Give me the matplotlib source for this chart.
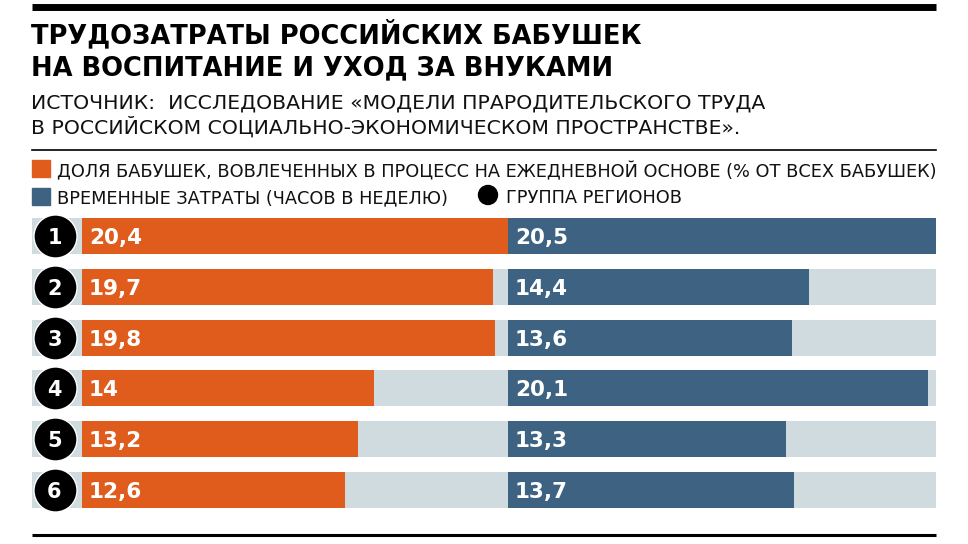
import matplotlib
matplotlib.use("Agg")
import matplotlib.pyplot as plt
from matplotlib.lines import Line2D
from matplotlib.patches import Rectangle, Ellipse
from matplotlib.transforms import blended_transform_factory

# data
groups = ["1", "2", "3", "4", "5", "6"]
share_daily = [20.4, 19.7, 19.8, 14, 13.2, 12.6]      # % of all grandmothers
hours_week = [20.5, 14.4, 13.6, 20.1, 13.3, 13.7]     # hours per week
share_labels = ["20,4", "19,7", "19,8", "14", "13,2", "12,6"]
hours_labels = ["20,5", "14,4", "13,6", "20,1", "13,3", "13,7"]

title = ["ТРУДОЗАТРАТЫ РОССИЙСКИХ БАБУШЕК", "НА ВОСПИТАНИЕ И УХОД ЗА ВНУКАМИ"]
source = ["ИСТОЧНИК:  ИССЛЕДОВАНИЕ «МОДЕЛИ ПРАРОДИТЕЛЬСКОГО ТРУДА",
          "В РОССИЙСКОМ СОЦИАЛЬНО-ЭКОНОМИЧЕСКОМ ПРОСТРАНСТВЕ»."]
legend_share = "ДОЛЯ БАБУШЕК, ВОВЛЕЧЕННЫХ В ПРОЦЕСС НА ЕЖЕДНЕВНОЙ ОСНОВЕ (% ОТ ВСЕХ БАБУШЕК)"
legend_hours = "ВРЕМЕННЫЕ ЗАТРАТЫ (ЧАСОВ В НЕДЕЛЮ)"
legend_group = "ГРУППА РЕГИОНОВ"

ORANGE = "#e05c1c"
BLUE = "#3d6282"
GREY = "#cfdbde"

W, H = 968, 544
fx = lambda px: px / W
fy = lambda py: 1 - py / H

plt.rcParams["font.family"] = ["DejaVu Sans"]
fig = plt.figure(figsize=(W / 100, H / 100), dpi=100)

# rules
fig.add_artist(Line2D([fx(32), fx(936)], [fy(6.5), fy(6.5)], color="black", lw=5, solid_capstyle="butt"))
fig.add_artist(Line2D([fx(32), fx(936)], [fy(150), fy(150)], color="black", lw=1.2))
fig.add_artist(Line2D([fx(32), fx(936)], [fy(535), fy(535)], color="black", lw=2.2, solid_capstyle="butt"))

# titles
fig.text(fx(31), fy(43), title[0], fontsize=18.5, fontweight="bold", va="baseline")
fig.text(fx(31), fy(75), title[1], fontsize=18.5, fontweight="bold", va="baseline")
fig.text(fx(31), fy(108), source[0], fontsize=14.7, va="baseline", color="#111111")
fig.text(fx(31), fy(134), source[1], fontsize=14.7, va="baseline", color="#111111")

# legend
fig.add_artist(Rectangle((fx(32), fy(177)), fx(18), 17 / H, color=ORANGE))
fig.add_artist(Rectangle((fx(32), fy(205)), fx(18), 17 / H, color=BLUE))
fig.text(fx(57), fy(177), legend_share, fontsize=12.75, va="baseline", color="#111111")
fig.text(fx(57), fy(203), legend_hours, fontsize=12.75, va="baseline", color="#111111")
fig.add_artist(Ellipse((fx(488), fy(195)), 19 / W, 19 / H, color="black"))
fig.text(fx(506), fy(203), legend_group, fontsize=12.75, va="baseline", color="#111111")

# bar axes
h = 0.709
row_top, row_bot = 218, 508
ax_b = fy(row_bot)
ax_h = (row_bot - row_top) / H
left_max = max(share_daily)
right_max = max(hours_week)
pad = left_max * 50 / 426   # room for the circles, in data units

axl = fig.add_axes([fx(32), ax_b, fx(476), ax_h])
axr = fig.add_axes([fx(508), ax_b, fx(428), ax_h])
y = list(range(len(groups)))

axl.barh(y, left_max + pad, left=-pad, height=h, color=GREY)
axl.barh(y, share_daily, height=h, color=ORANGE)
axl.set_xlim(-pad, left_max)
axr.barh(y, right_max, height=h, color=GREY)
axr.barh(y, hours_week, height=h, color=BLUE)
axr.set_xlim(0, right_max)

for ax in (axl, axr):
    ax.set_ylim(len(groups) - 1 + h / 2, -h / 2)
    ax.axis("off")

for yi, lab in zip(y, share_labels):
    axl.text(0.33, yi, lab, color="white", fontsize=15.5, fontweight="bold", va="center_baseline", ha="left")
for yi, lab in zip(y, hours_labels):
    axr.text(0.33, yi, lab, color="white", fontsize=15.5, fontweight="bold", va="center_baseline", ha="left")

tr = blended_transform_factory(axl.transAxes, axl.transData)
axl.scatter([22.5 / 476] * len(y), y, s=31 ** 2, color="black", edgecolor="white", lw=1,
            transform=tr, zorder=5, clip_on=False)
for yi, g in zip(y, groups):
    axl.text(22.5 / 476, yi, g, transform=tr, color="white", fontsize=15, fontweight="bold",
             ha="center", va="center_baseline", zorder=6)

fig.savefig("out.png", dpi=100)
